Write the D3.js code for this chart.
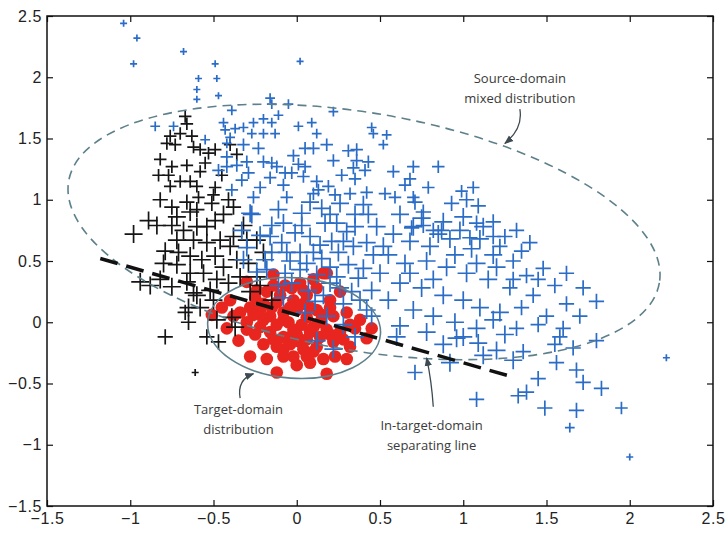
<!DOCTYPE html>
<html>
<head>
<meta charset="utf-8">
<script src="https://cdn.jsdelivr.net/npm/d3@7"></script>
<style>
  body { margin: 0; background: #fff; }
  .tick text { font-family: "Liberation Sans", Arial, sans-serif; font-size: 16px; letter-spacing: 0.6px; fill: #222; }
  .note { font-family: "Open Sans", sans-serif; font-size: 13px; fill: #3a3a3a; }
</style>
</head>
<body>
<script>
// ---------------------- DATA ----------------------

const xTicks = [-1.5, -1, -0.5, 0, 0.5, 1, 1.5, 2, 2.5];
const yTicks = [-1.5, -1, -0.5, 0, 0.5, 1, 1.5, 2, 2.5];

// source-domain points [x, y, weight]
const bluePoints = [
  [-1.04,2.44,1],[-0.96,2.32,1],[-0.98,2.11,1],[-0.68,2.21,1],[-0.49,2.11,1],[-0.48,1.99,1],
  [-0.47,1.85,1],[-0.59,1.99,1],[-0.60,1.90,1],[-0.60,1.82,1],[0.02,2.13,1],[2.22,-0.29,1],
  [2.0,-1.10,1],[1.64,-0.86,1.5],
  [-0.85,1.60,1.5],[-0.74,1.60,1.5],[-0.39,1.73,1.5],[-0.16,1.83,1.5],[-0.15,1.78,1.5],[-0.05,1.78,1.5],
  [0.22,1.72,1.5],[-0.26,1.63,1.5],[-0.20,1.66,1.5],[-0.15,1.63,1.5],[-0.11,1.69,1.5],[-0.32,1.59,1.5],
  [-0.27,1.54,1.5],[-0.20,1.54,1.5],[-0.13,1.54,1.5],[0.01,1.60,1.5],[0.09,1.63,1.5],[0.12,1.54,1.5],
  [0.45,1.59,1.5],[0.46,1.54,1.5],[-0.32,1.45,2],[-0.23,1.42,2],[0.05,1.42,2],[0.10,1.42,2],
  [0.31,1.40,2],[0.36,1.41,2],[-0.30,1.31,2],[-0.20,1.31,2],[-0.15,1.30,2],[-0.12,1.27,2],
  [0.01,1.29,2],[0.05,1.27,2],[0.36,1.32,2],[0.43,1.31,2],[0.34,1.26,2],[0.41,1.24,2],
  [-0.29,1.22,2],[-0.07,1.22,2],[-0.03,1.22,2],[-0.16,1.18,2],[0.04,1.19,2],[-0.08,1.12,2],
  [0.12,1.15,2],[0.19,1.11,2],[0.35,1.17,2],[-0.26,1.02,2],[-0.06,1.02,2],[0.10,1.05,2],
  [0.13,1.08,2],[0.23,1.04,2],[0.32,1.05,2],[0.42,1.06,2],[0.54,1.53,1.5],[0.52,1.45,1.5],
  [0.58,1.23,2],[0.70,1.27,2],[0.85,1.27,2],[0.68,1.17,2],[0.65,1.12,2],[0.79,1.10,2],
  [0.99,1.07,2],[1.06,1.10,2],[0.53,1.05,2],[0.59,1.02,2],[0.70,1.02,2],[-0.44,1.63,1.5],
  [-0.43,1.57,1.5],[-0.40,1.51,1.5],[-0.42,1.46,1.5],[-0.55,1.49,1.5],[-0.37,1.58,1.5],[-0.42,1.35,2],
  [-0.42,1.27,2],[-0.47,1.24,2],[-0.39,1.08,2],[-0.36,1.28,2],[-0.33,1.16,2],[-0.22,1.10,2],
  [0.27,1.20,2],[0.22,1.32,2],[0.18,1.45,2],[-0.02,1.36,2],
  [1.02,1.00,2.5],[1.09,0.95,2.5],[0.93,0.97,2.5],[0.76,0.90,2.5],[0.71,0.98,2.5],[1.08,0.81,2.5],
  [1.18,0.82,2.5],[1.32,0.75,2.5],[1.18,0.70,2.5],[1.04,0.69,2.5],[0.87,0.75,2.5],[0.82,0.75,2.5],
  [0.69,0.77,2.5],[0.76,0.79,2.5],
  [-0.27,0.88,3],[-0.11,0.92,3],[0.03,0.89,3],[0.15,0.93,3],[0.20,0.88,3],[0.40,0.96,3],
  [0.35,0.88,3],[0.43,0.88,3],[-0.15,0.79,3],[-0.08,0.81,3],[0.03,0.79,3],[0.17,0.81,3],
  [0.24,0.81,3],[0.35,0.78,3],[-0.22,0.71,3],[-0.16,0.70,3],[-0.01,0.73,3],[0.14,0.63,3],
  [0.21,0.66,3],[0.28,0.66,3],[0.34,0.62,3],[0.42,0.65,3],[0.46,0.55,3],[-0.09,0.65,3],
  [-0.06,0.57,3],[0.02,0.57,3],[0.10,0.57,3],[0.25,0.57,3],[-0.15,0.57,3],[-0.19,0.51,3],
  [0.06,0.48,3],[0.20,0.45,3],[0.31,0.47,3],[0.40,0.44,3],[-0.07,0.40,3],[0.02,0.43,3],
  [0.12,0.39,3],[0.24,0.37,3],[0.37,0.36,3],[-0.11,0.30,3],[-0.03,0.32,3],[0.20,0.32,3],
  [0.26,0.28,3],[0.33,0.25,3],[0.45,0.26,3],[0.07,0.26,3],[0.16,0.22,3],[0.38,0.18,3],
  [-0.08,0.20,3],[0.11,0.17,3],[-0.28,0.89,3],[-0.30,0.61,3],[-0.32,0.51,3],[-0.24,0.41,3],
  [-0.33,0.75,3],[0.18,0.05,3],[0.28,-0.02,3],[0.35,-0.12,3],[0.12,-0.15,3],[0.05,0.08,3],
  [0.22,-0.22,3],[0.08,0.70,3],[0.30,0.74,3],[-0.04,0.50,3],[0.15,0.52,3],[0.28,0.15,3],
  [0.42,0.10,3],[-0.18,0.43,3],[0.08,0.98,3],[0.26,0.97,3],[0.48,0.78,3],
  [0.62,0.88,3],[0.75,0.85,3],[0.88,0.82,3],[1.00,0.86,3],[1.12,0.78,3],[1.25,0.70,2.5],
  [1.40,0.65,2.5],[0.58,0.72,3],[0.68,0.66,3],[0.80,0.62,3],[0.92,0.68,3],[1.05,0.60,3],
  [1.18,0.55,3],[1.30,0.50,2.5],[1.48,0.44,2.5],[1.38,0.38,2.5],[0.55,0.55,3],[0.65,0.48,3],
  [0.78,0.50,3],[0.90,0.45,3],[1.02,0.40,3],[1.15,0.35,3],[1.28,0.28,2.5],[1.42,0.22,2.5],
  [1.55,0.30,2.5],[1.62,0.15,2.5],[1.80,0.17,2.5],[1.70,0.05,2.5],[1.50,0.05,2.5],[0.50,0.40,3],
  [0.62,0.32,3],[0.75,0.28,3],[0.88,0.22,3],[1.00,0.18,3],[1.10,0.12,3],[1.22,0.08,3],
  [1.35,0.12,2.5],[0.55,0.18,3],[0.70,0.10,3],[0.82,0.05,3],[0.95,0.00,3],[1.08,-0.05,3],
  [1.18,0.02,3],[1.45,-0.02,2.5],[1.60,-0.05,2.5],[0.45,0.05,3],[0.62,-0.03,3],[0.78,-0.08,3],
  [0.88,-0.18,3],[1.00,-0.12,3],[1.32,-0.05,2.5],[1.55,-0.18,2.5],[0.52,0.62,3],[0.70,0.78,3],
  [0.85,0.72,3],[0.98,0.75,3],[1.10,0.68,3],[1.22,0.62,2.5],[1.35,0.58,2.5],[0.95,0.55,3],
  [1.08,0.48,3],[1.20,0.45,3],[0.68,0.40,3],[0.82,0.35,3],[1.30,0.35,2.5],[1.45,0.35,2.5],
  [1.62,0.40,2.5],[1.72,0.28,2.5],
  [0.60,-0.12,3],[0.71,-0.41,2.5],[1.08,-0.63,2.5],[0.92,-0.33,3],[0.96,-0.13,3],[1.09,-0.17,3],
  [1.12,-0.27,3],[1.20,-0.23,3],[1.25,-0.10,3],[1.30,-0.31,3],[1.36,-0.24,2.5],[1.33,-0.60,2.5],
  [1.38,-0.57,2.5],[1.45,-0.46,2.5],[1.56,-0.33,2.5],[1.49,-0.70,2.5],[1.68,-0.39,2.5],[1.72,-0.49,2.5],
  [1.68,-0.72,2.5],[1.58,-0.12,2.5],[1.66,-0.21,2.5],[1.80,-0.15,2.5],[1.83,-0.54,2.5],[1.95,-0.70,2]
];

const blackPoints = [
  [-0.67,1.68,2],[-0.66,1.62,2],[-0.76,1.52,2],[-0.70,1.54,2],[-0.73,1.45,2],[-0.78,1.46,2],
  [-0.62,1.43,2],[-0.58,1.41,2],[-0.53,1.38,2],[-0.49,1.41,2],[-0.36,1.37,2],[-0.82,1.33,2],
  [-0.75,1.27,2],[-0.66,1.28,2],[-0.58,1.23,2],[-0.83,1.20,2],[-0.77,1.20,2],[-0.70,1.15,2],
  [-0.64,1.15,2],[-0.60,1.11,2],[-0.49,1.10,2],[-0.50,1.04,2],[-0.76,1.11,2],[-0.59,1.02,2],
  [-0.55,1.30,2],[-0.45,1.20,2],[-0.40,1.45,2],[-0.63,1.52,2],
  [-0.82,1.00,2.5],[-0.75,0.94,2.5],[-0.66,0.98,2.5],[-0.60,0.92,2.5],[-0.51,0.97,2.5],[-0.41,1.00,2.5],
  [-0.38,0.94,2.5],[-0.98,0.72,3],[-0.89,0.83,3],[-0.84,0.79,3],[-0.72,0.86,3],[-0.64,0.90,3],
  [-0.75,0.79,3],[-0.68,0.75,3],[-0.60,0.78,3],[-0.54,0.78,3],[-0.49,0.83,3],[-0.44,0.88,3],
  [-0.32,0.79,3],[-0.38,0.70,3],[-0.72,0.67,3],[-0.62,0.67,3],[-0.54,0.65,3],[-0.46,0.67,3],
  [-0.40,0.62,3],[-0.30,0.67,3],[-0.24,0.67,3],[-0.20,0.57,3],[-0.79,0.58,3],[-0.71,0.57,3],
  [-0.64,0.54,3],[-0.57,0.51,3],[-0.49,0.54,3],[-0.44,0.45,3],[-0.36,0.51,3],[-0.29,0.48,3],
  [-0.80,0.48,3],[-0.64,0.40,3],[-0.56,0.40,3],[-0.48,0.35,3],[-0.41,0.32,3],[-0.34,0.37,3],
  [-0.94,0.33,3],[-0.88,0.30,3],[-0.82,0.35,3],[-0.75,0.29,3],[-0.62,0.24,3],[-0.24,0.37,3],
  [-0.72,0.47,3],[-0.66,0.33,3],[-0.60,0.22,3],[-0.52,0.26,3],[-0.50,0.18,3],[-0.65,0.12,3],
  [-0.58,0.12,3],[-0.79,-0.12,2.5],[-0.65,0.00,2.5],[-0.54,-0.12,2.5],[-0.47,-0.16,2.5],[-0.67,0.08,2.5],
  [-0.37,-0.04,3],[-0.39,0.04,3],[-0.48,0.02,3],[-0.28,0.25,3],[-0.22,0.30,3],[-0.15,0.18,3],
  [-0.61,-0.41,1]
];

// target-domain points [x, y]
const redPoints = [
  [-0.30,0.33],[0.16,0.40],[-0.45,0.12],[-0.40,0.18],[-0.51,0.06],[-0.34,0.08],[-0.28,-0.28],
  [-0.12,-0.41],[0.18,-0.42],[0.23,-0.28],[0.32,-0.20],[0.42,-0.13],[0.08,-0.33],[-0.02,-0.28],
  [-0.14,0.39],[-0.07,0.30],[0.02,0.32],[0.18,0.40],
  [-0.25,0.20],[-0.18,0.25],[-0.10,0.22],[-0.02,0.18],[0.06,0.22],[0.12,0.28],[0.20,0.18],
  [-0.22,0.10],[-0.15,0.12],[-0.08,0.08],[0.00,0.10],[0.08,0.12],[0.15,0.06],[0.22,0.05],
  [0.30,0.08],[-0.30,0.00],[-0.20,0.02],[-0.12,-0.02],[-0.05,0.00],[0.03,-0.02],[0.10,-0.04],
  [0.18,-0.06],[0.26,-0.08],[0.35,-0.05],[-0.25,-0.10],[-0.16,-0.08],[-0.08,-0.12],[0.00,-0.10],
  [0.06,-0.14],[0.14,-0.12],[0.22,-0.16],[-0.20,-0.18],[-0.12,-0.20],[-0.04,-0.18],[0.04,-0.22],
  [0.12,-0.20],[0.16,-0.30],[-0.08,-0.28],[0.00,-0.35],[-0.35,-0.15],[-0.38,0.05],[0.38,0.02],
  [-0.03,0.28],[0.26,0.25],[-0.28,0.12],[0.45,-0.05],[0.10,0.35],[-0.18,-0.30],[0.30,-0.30],
  [-0.42,-0.05],
  [-0.20,0.15],[-0.12,0.16],[-0.04,0.12],[0.04,0.15],[0.12,0.10],[-0.26,0.06],[-0.16,0.05],
  [-0.08,0.02],[0.06,0.04],[0.14,0.00],[-0.22,-0.04],[-0.02,-0.06],[0.08,-0.08],[0.20,-0.10],
  [-0.14,-0.14],[-0.04,-0.12],[0.02,-0.16],[0.10,-0.24],[-0.08,-0.22],[0.28,-0.14],[-0.30,-0.06],
  [0.04,0.26],[-0.14,0.30],[0.20,0.12],[0.06,-0.28],[-0.24,0.26],[0.32,-0.02]
];

// ellipses: centre, semi-axes (data units), tilt (deg)
const sourceEllipse = { cx: 0.404, cy: 0.737, rx: 1.80, ry: 0.97, tilt: 9.8 };
const targetEllipse = { cx: -0.016, cy: -0.047, rx: 0.52, ry: 0.41, tilt: 4 };

// separating line end points
const sepLine = [[-1.18, 0.52], [1.28, -0.44]];

// annotations: text block anchor, arrow start, control, end (data units)
const notes = [
  { lines: ["Source-domain", "mixed distribution"], at: [1.34, 1.99],
    arrow: [[1.34, 1.74], [1.36, 1.58], [1.25, 1.46]] },
  { lines: ["Target-domain", "distribution"], at: [-0.35, -0.71],
    arrow: [[-0.34, -0.62], [-0.36, -0.47], [-0.26, -0.42]] },
  { lines: ["In-target-domain", "separating line"], at: [0.81, -0.84],
    arrow: [[0.82, -0.69], [0.81, -0.48], [0.78, -0.29]] }
];

// ---------------------- SETUP ----------------------

const width = 728, height = 535;
const plot = { left: 47, right: 713, top: 16, bottom: 506 };

const x = d3.scaleLinear().domain([-1.5, 2.5]).range([plot.left, plot.right]);
const y = d3.scaleLinear().domain([-1.5, 2.5]).range([plot.bottom, plot.top]);
const size = d3.scaleLinear().domain([1, 3]).range([7, 18]);

const svg = d3.select("body").append("svg")
    .attr("width", width)
    .attr("height", height);

svg.append("defs").append("marker")
    .attr("id", "head")
    .attr("viewBox", "0 0 10 10")
    .attr("refX", 9).attr("refY", 5)
    .attr("markerWidth", 7).attr("markerHeight", 7)
    .attr("orient", "auto")
  .append("path")
    .attr("d", "M0,1L10,5L0,9Z")
    .attr("fill", "#3d4a52");

function plusPath(s) {
    const h = s / 2;
    return `M${-h},0H${h}M0,${-h}V${h}`;
}

// ---------------------- POINTS ----------------------

svg.append("g").selectAll("circle")
    .data(redPoints)
    .enter().append("circle")
    .attr("cx", d => x(d[0]))
    .attr("cy", d => y(d[1]))
    .attr("r", 6.3)
    .attr("fill", "#e8261f");

svg.append("g").selectAll("path")
    .data(blackPoints)
    .enter().append("path")
    .attr("transform", d => `translate(${x(d[0])},${y(d[1])})`)
    .attr("d", d => plusPath(size(d[2])))
    .attr("stroke", "#151515")
    .attr("stroke-width", 1.7)
    .attr("fill", "none");

svg.append("g").selectAll("path")
    .data(bluePoints)
    .enter().append("path")
    .attr("transform", d => `translate(${x(d[0])},${y(d[1])})`)
    .attr("d", d => plusPath(size(d[2])))
    .attr("stroke", "#2a6cc6")
    .attr("stroke-width", 1.7)
    .attr("fill", "none");

// ---------------------- ELLIPSES & LINE ----------------------

function drawEllipse(e, dash) {
    svg.append("ellipse")
        .attr("transform", `translate(${x(e.cx)},${y(e.cy)}) rotate(${e.tilt})`)
        .attr("rx", x(e.rx) - x(0))
        .attr("ry", y(0) - y(e.ry))
        .attr("fill", "none")
        .attr("stroke", "#5d808c")
        .attr("stroke-width", 1.6)
        .attr("stroke-dasharray", dash);
}
drawEllipse(sourceEllipse, "9,6");
drawEllipse(targetEllipse, null);

svg.append("line")
    .attr("x1", x(sepLine[0][0])).attr("y1", y(sepLine[0][1]))
    .attr("x2", x(sepLine[1][0])).attr("y2", y(sepLine[1][1]))
    .attr("stroke", "#111")
    .attr("stroke-width", 3.5)
    .attr("stroke-dasharray", "18,9");

// ---------------------- ANNOTATIONS ----------------------

notes.forEach(n => {
    const t = svg.append("text")
        .attr("class", "note")
        .attr("text-anchor", "middle")
        .attr("x", x(n.at[0]))
        .attr("y", y(n.at[1]) + 5);
    n.lines.forEach((l, i) => {
        t.append("tspan")
            .attr("x", x(n.at[0]))
            .attr("dy", i === 0 ? 0 : 20)
            .text(l);
    });
    const [a, c, b] = n.arrow;
    svg.append("path")
        .attr("d", `M${x(a[0])},${y(a[1])}Q${x(c[0])},${y(c[1])} ${x(b[0])},${y(b[1])}`)
        .attr("fill", "none")
        .attr("stroke", "#3d4a52")
        .attr("stroke-width", 1.3)
        .attr("marker-end", "url(#head)");
});

// ---------------------- AXES ----------------------

svg.append("g")
    .attr("transform", `translate(0,${plot.bottom})`)
    .call(d3.axisBottom(x).tickValues(xTicks).tickFormat(d3.format("")).tickSize(-6).tickPadding(7));

svg.append("g")
    .attr("transform", `translate(${plot.left},0)`)
    .call(d3.axisLeft(y).tickValues(yTicks).tickFormat(d3.format("")).tickSize(-6).tickPadding(5));

svg.append("g")
    .attr("transform", `translate(0,${plot.top})`)
    .call(d3.axisTop(x).tickValues(xTicks).tickFormat("").tickSize(-6));

svg.append("g")
    .attr("transform", `translate(${plot.right},0)`)
    .call(d3.axisRight(y).tickValues(yTicks).tickFormat("").tickSize(-6));

svg.selectAll(".domain").remove();
svg.selectAll(".tick line").attr("stroke", "#111").attr("stroke-width", 1.2);

svg.append("rect")
    .attr("x", plot.left).attr("y", plot.top)
    .attr("width", plot.right - plot.left).attr("height", plot.bottom - plot.top)
    .attr("fill", "none")
    .attr("stroke", "#111")
    .attr("stroke-width", 1.5);
</script>
</body>
</html>
